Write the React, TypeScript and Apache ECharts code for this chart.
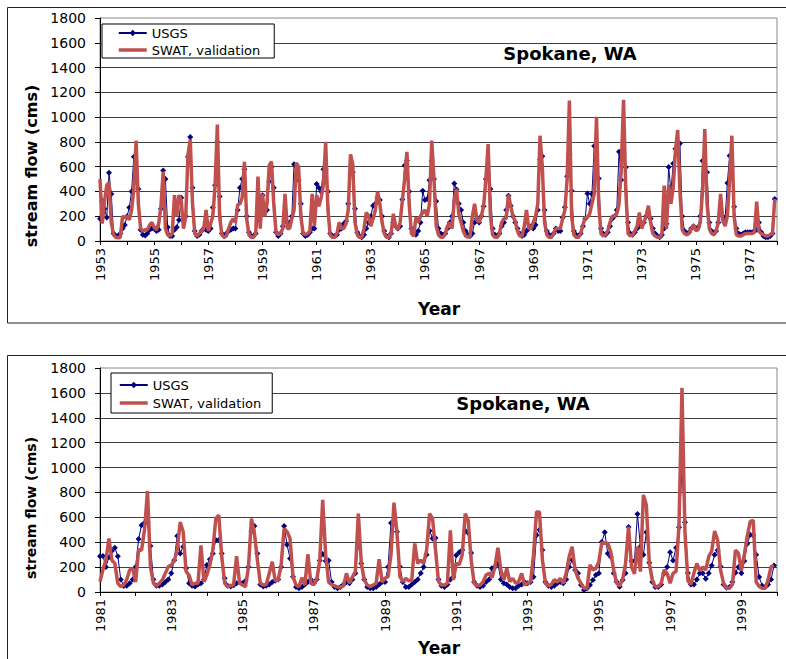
import React, { useEffect, useRef } from 'react';
import * as echarts from 'echarts';

const topStartYear = 1953;
const bottomStartYear = 1981;
const yMin = 0;
const yMax = 1800;
const yStep = 200;
const seriesNames = ['USGS', 'SWAT, validation'];
const titleText = 'Spokane, WA';
const yAxisTitle = 'stream flow (cms)';
const xAxisTitle = 'Year';

// monthly values, one row per year (Jan..Dec), 1953-1977
const usgsTop = [
  [180, 325, 260, 190, 550, 380, 60, 40, 40, 60, 100, 130],
  [200, 270, 400, 680, 560, 420, 90, 50, 45, 60, 90, 100],
  [100, 80, 90, 260, 570, 500, 110, 40, 40, 90, 110, 170],
  [350, 170, 200, 680, 840, 430, 80, 40, 50, 80, 100, 90],
  [80, 100, 270, 450, 800, 360, 60, 40, 60, 80, 90, 100],
  [100, 250, 430, 500, 580, 200, 70, 40, 40, 60, 170, 250],
  [370, 250, 250, 480, 600, 430, 70, 40, 60, 120, 200, 150],
  [150, 200, 620, 600, 490, 300, 60, 40, 50, 70, 100, 100],
  [460, 430, 400, 580, 580, 400, 60, 40, 40, 50, 90, 100],
  [140, 160, 300, 540, 555, 260, 70, 40, 30, 50, 100, 150],
  [200, 285, 300, 350, 330, 200, 80, 40, 30, 60, 150, 120],
  [100, 120, 335, 610, 650, 400, 100, 60, 50, 80, 150, 405],
  [330, 340, 490, 645, 500, 320, 100, 60, 50, 60, 100, 150],
  [200, 465, 415, 300, 250, 150, 80, 50, 40, 60, 150, 180],
  [150, 200, 280, 500, 530, 420, 100, 50, 40, 60, 120, 150],
  [250, 365, 285, 200, 150, 100, 60, 40, 50, 80, 100, 120],
  [100, 130, 250, 657, 684, 250, 80, 50, 40, 60, 100, 80],
  [80, 190, 272, 522, 700, 406, 80, 50, 40, 60, 120, 180],
  [383, 300, 380, 767, 700, 504, 100, 60, 50, 70, 120, 180],
  [200, 250, 720, 492, 700, 595, 150, 60, 50, 70, 100, 120],
  [130, 150, 200, 220, 180, 100, 60, 40, 30, 50, 100, 140],
  [598, 400, 625, 745, 700, 786, 200, 80, 60, 70, 100, 120],
  [100, 110, 200, 648, 600, 554, 150, 80, 60, 80, 150, 250],
  [200, 180, 468, 688, 600, 277, 100, 60, 50, 60, 70, 70],
  [70, 70, 80, 90, 150, 70, 40, 30, 30, 40, 60, 340],
];

const swatTop = [
  [500, 140, 320, 450, 470, 150, 50, 30, 25, 30, 200, 190],
  [200, 170, 250, 420, 810, 300, 100, 80, 90, 90, 130, 150],
  [110, 90, 140, 280, 560, 100, 50, 40, 60, 370, 200, 370],
  [330, 100, 200, 700, 820, 300, 60, 40, 60, 80, 100, 250],
  [80, 140, 200, 450, 940, 200, 50, 30, 40, 100, 150, 180],
  [150, 290, 300, 350, 640, 180, 50, 30, 30, 60, 520, 100],
  [380, 200, 300, 610, 640, 300, 70, 50, 60, 100, 380, 100],
  [100, 180, 250, 630, 600, 200, 60, 50, 60, 80, 380, 120],
  [370, 280, 350, 450, 800, 250, 50, 30, 30, 60, 150, 100],
  [100, 140, 250, 700, 620, 150, 50, 30, 30, 100, 230, 200],
  [120, 180, 250, 400, 300, 150, 60, 30, 30, 60, 220, 120],
  [90, 150, 330, 500, 720, 300, 60, 40, 190, 150, 200, 230],
  [250, 200, 300, 810, 500, 120, 50, 30, 30, 60, 120, 150],
  [100, 330, 420, 220, 150, 80, 40, 30, 40, 200, 300, 170],
  [150, 200, 285, 500, 783, 200, 50, 30, 30, 60, 150, 180],
  [180, 375, 280, 200, 160, 80, 40, 40, 120, 250, 100, 100],
  [150, 200, 300, 850, 600, 150, 50, 30, 30, 60, 100, 100],
  [100, 180, 250, 500, 1133, 200, 50, 30, 30, 60, 130, 190],
  [190, 220, 300, 380, 1003, 300, 60, 40, 50, 80, 150, 200],
  [200, 218, 300, 600, 1140, 400, 60, 40, 50, 80, 120, 230],
  [100, 150, 200, 285, 150, 60, 40, 30, 30, 60, 447, 97],
  [455, 300, 430, 730, 896, 400, 90, 60, 50, 60, 100, 130],
  [83, 90, 150, 400, 904, 300, 100, 60, 50, 80, 150, 380],
  [164, 120, 200, 500, 850, 200, 50, 40, 40, 50, 60, 60],
  [60, 60, 70, 317, 80, 60, 50, 40, 40, 50, 60, 340],
];

// monthly values, one row per year (Jan..Dec), 1981-1999
const usgsBottom = [
  [288, 290, 200, 280, 330, 355, 288, 100, 48, 50, 70, 100],
  [200, 425, 537, 556, 556, 370, 100, 50, 50, 60, 80, 100],
  [150, 256, 450, 310, 364, 190, 70, 50, 45, 60, 70, 100],
  [217, 263, 310, 418, 418, 310, 110, 50, 45, 55, 70, 80],
  [70, 90, 200, 484, 530, 310, 60, 45, 50, 60, 80, 90],
  [100, 200, 530, 380, 270, 123, 40, 30, 40, 60, 80, 100],
  [70, 100, 253, 306, 250, 253, 80, 40, 30, 40, 60, 80],
  [70, 100, 150, 390, 230, 100, 40, 30, 30, 40, 60, 80],
  [80, 200, 555, 555, 484, 203, 80, 40, 40, 60, 80, 100],
  [150, 200, 300, 493, 430, 434, 100, 50, 40, 60, 100, 120],
  [296, 320, 337, 493, 475, 313, 80, 50, 40, 50, 80, 100],
  [190, 200, 230, 100, 70, 60, 40, 30, 30, 50, 60, 80],
  [70, 80, 120, 457, 500, 337, 80, 50, 40, 50, 70, 80],
  [70, 100, 200, 257, 177, 150, 56, 16, 30, 56, 97, 137],
  [150, 402, 480, 310, 284, 150, 83, 43, 97, 150, 523, 250],
  [250, 627, 365, 300, 480, 235, 80, 40, 40, 60, 150, 200],
  [320, 253, 356, 520, 978, 560, 152, 60, 60, 100, 150, 150],
  [107, 150, 213, 300, 335, 205, 60, 35, 40, 80, 155, 200],
  [150, 250, 388, 460, 455, 300, 120, 50, 40, 60, 100, 213],
];

const swatBottom = [
  [83, 180, 257, 430, 255, 230, 70, 43, 56, 100, 176, 190],
  [80, 340, 335, 500, 812, 200, 70, 48, 70, 97, 150, 204],
  [217, 250, 337, 562, 485, 163, 136, 56, 70, 70, 375, 83],
  [136, 217, 337, 590, 618, 285, 70, 43, 50, 60, 288, 70],
  [56, 43, 200, 590, 470, 256, 70, 56, 60, 150, 243, 90],
  [96, 216, 510, 485, 430, 123, 56, 43, 115, 56, 303, 70],
  [60, 100, 250, 740, 300, 80, 60, 50, 40, 40, 50, 150],
  [70, 120, 163, 630, 230, 97, 56, 43, 56, 70, 263, 80],
  [110, 123, 300, 718, 484, 123, 83, 110, 90, 100, 390, 230],
  [256, 230, 337, 630, 590, 337, 83, 56, 56, 70, 496, 96],
  [230, 220, 300, 630, 577, 256, 70, 50, 56, 80, 136, 150],
  [115, 200, 355, 176, 96, 190, 83, 110, 70, 83, 150, 56],
  [70, 83, 300, 643, 643, 256, 70, 50, 60, 100, 80, 110],
  [70, 150, 284, 364, 177, 110, 70, 30, 30, 217, 177, 190],
  [244, 397, 391, 391, 324, 177, 70, 48, 100, 230, 525, 203],
  [146, 364, 164, 780, 700, 230, 97, 43, 43, 70, 177, 150],
  [70, 150, 164, 540, 1640, 480, 90, 60, 150, 230, 170, 200],
  [177, 284, 330, 490, 418, 177, 70, 30, 30, 60, 337, 311],
  [174, 300, 450, 568, 575, 80, 45, 30, 30, 97, 203, 213],
];

const FONT = '"DejaVu Sans", Arial, sans-serif';
const NAVY = '#000080';
const RED = '#C0504D';

function toPoints(rows: number[][]): [number, number][] {
  const out: [number, number][] = [];
  rows.forEach((row, yi) => row.forEach((v, mi) => out.push([yi * 12 + mi, v])));
  return out;
}

function xAxisFor(gridIndex: number, startYear: number, nYears: number) {
  return {
    type: 'value',
    gridIndex,
    min: 0,
    max: nYears * 12,
    interval: 12,
    axisLine: { show: true, lineStyle: { color: '#000', width: 1 } },
    axisTick: { show: true, length: 4, lineStyle: { color: '#000' } },
    axisLabel: {
      rotate: 90,
      margin: 7,
      fontSize: 13,
      fontFamily: FONT,
      color: '#000',
      formatter: (v: number) => (v % 24 === 0 ? String(startYear + v / 12) : ''),
    },
    splitLine: { show: false },
  };
}

function yAxisFor(gridIndex: number) {
  return {
    type: 'value',
    gridIndex,
    min: yMin,
    max: yMax,
    interval: yStep,
    axisLine: { show: true, lineStyle: { color: '#000', width: 1 } },
    axisTick: { show: true, length: 5, lineStyle: { color: '#000' } },
    axisLabel: { margin: 14, fontSize: 14, fontFamily: FONT, color: '#000', formatter: (v: number) => String(v) },
    splitLine: { show: true, showMinLine: false, showMaxLine: false, lineStyle: { color: '#404040', width: 1 } },
  };
}

function seriesFor(idx: number, usgs: number[][], swat: number[][]) {
  return [
    {
      name: seriesNames[0],
      type: 'line',
      xAxisIndex: idx,
      yAxisIndex: idx,
      data: toPoints(usgs),
      symbol: 'diamond',
      symbolSize: 6,
      showAllSymbol: true,
      color: NAVY,
      lineStyle: { width: 1, color: NAVY },
      itemStyle: { color: NAVY },
      z: 2,
    },
    {
      name: seriesNames[1],
      type: 'line',
      xAxisIndex: idx,
      yAxisIndex: idx,
      data: toPoints(swat),
      symbol: 'none',
      color: RED,
      lineStyle: { width: 3.5, color: RED },
      itemStyle: { color: RED },
      z: 3,
    },
  ];
}

function legendFor(left: number, top: number, padding: number[], itemGap: number) {
  return {
    left,
    top,
    orient: 'vertical',
    padding,
    itemGap,
    itemWidth: 28,
    itemHeight: 8,
    borderColor: '#000',
    borderWidth: 1,
    borderRadius: 0,
    backgroundColor: '#fff',
    textStyle: { fontFamily: FONT, fontSize: 13, color: '#000', lineHeight: 14 },
    data: [
      { name: seriesNames[0] },
      { name: seriesNames[1], itemStyle: { opacity: 0 }, lineStyle: { color: RED, width: 3.5, opacity: 1 } },
    ],
  };
}

export default function App() {
  const ref = useRef<HTMLDivElement>(null);
  useEffect(() => {
    if (!ref.current) return;
    const chart = echarts.init(ref.current, undefined, { renderer: 'svg' });
    const option = {
      animation: false,
      backgroundColor: '#fff',
      textStyle: { fontFamily: FONT },
      grid: [
        { left: 100, top: 18, width: 677, height: 223, show: true, borderColor: '#888', borderWidth: 1, backgroundColor: 'transparent' },
        { left: 100, top: 368, width: 677, height: 224, show: true, borderColor: '#888', borderWidth: 1, backgroundColor: 'transparent' },
      ],
      xAxis: [xAxisFor(0, topStartYear, usgsTop.length), xAxisFor(1, bottomStartYear, usgsBottom.length)],
      yAxis: [yAxisFor(0), yAxisFor(1)],
      legend: [legendFor(102, 24, [2, 14, 1, 15], 3), legendFor(111, 373, [5, 11, 3, 7], 4)],
      series: [...seriesFor(0, usgsTop, swatTop), ...seriesFor(1, usgsBottom, swatBottom)],
      graphic: [
        { type: 'rect', shape: { x: 7.5, y: 7.5, width: 800, height: 315.5 }, style: { fill: 'none', stroke: '#222', lineWidth: 1 }, silent: true },
        { type: 'rect', shape: { x: 7.5, y: 355.5, width: 800, height: 400 }, style: { fill: 'none', stroke: '#222', lineWidth: 1 }, silent: true },
        { type: 'text', x: 570, y: 53, style: { text: titleText, font: `bold 18px ${FONT}`, fill: '#000', textAlign: 'center', textVerticalAlign: 'middle' } },
        { type: 'text', x: 523, y: 403, style: { text: titleText, font: `bold 18px ${FONT}`, fill: '#000', textAlign: 'center', textVerticalAlign: 'middle' } },
        { type: 'text', x: 31, y: 166, rotation: Math.PI / 2, style: { text: yAxisTitle, font: `bold 16px ${FONT}`, fill: '#000', textAlign: 'center', textVerticalAlign: 'middle' } },
        { type: 'text', x: 31, y: 508, rotation: Math.PI / 2, style: { text: yAxisTitle, font: `bold 14px ${FONT}`, fill: '#000', textAlign: 'center', textVerticalAlign: 'middle' } },
        { type: 'text', x: 439, y: 309, style: { text: xAxisTitle, font: `bold 17px ${FONT}`, fill: '#000', textAlign: 'center', textVerticalAlign: 'middle' } },
        { type: 'text', x: 439, y: 648, style: { text: xAxisTitle, font: `bold 17px ${FONT}`, fill: '#000', textAlign: 'center', textVerticalAlign: 'middle' } },
      ],
    };
    chart.setOption(option as any);
    return () => chart.dispose();
  }, []);
  return <div ref={ref} style={{ position: 'fixed', left: 0, top: 0, width: 786, height: 659, background: '#fff' }} />;
}
